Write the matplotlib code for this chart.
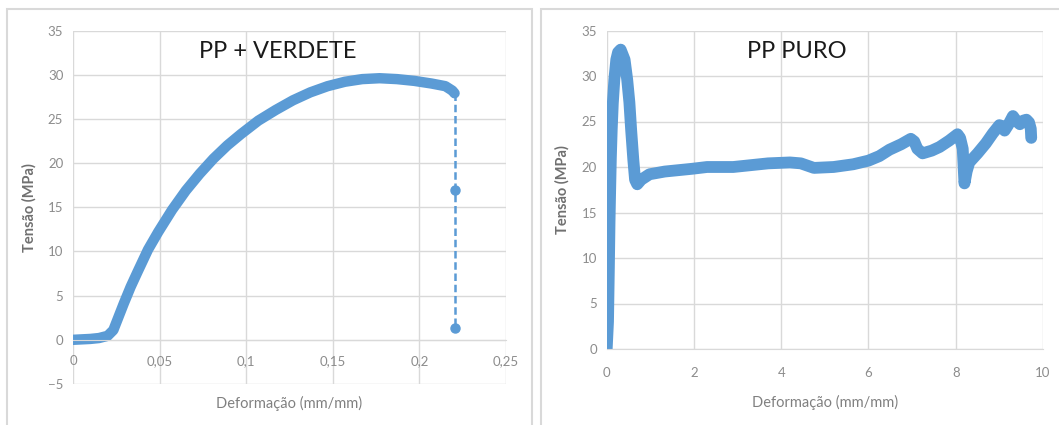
import matplotlib
matplotlib.use("Agg")
import matplotlib.pyplot as plt
from matplotlib.patches import Rectangle

plt.rcParams['font.family'] = ['Lato', 'DejaVu Sans']

# PP + VERDETE (curva principal e trecho de ruptura)
verd_x = [0, 0.005, 0.01, 0.015, 0.02, 0.0233, 0.0263, 0.0293, 0.0333, 0.0373, 0.0433,
          0.0492, 0.0572, 0.0652, 0.0732, 0.0811, 0.0891, 0.0971, 0.107, 0.117, 0.127,
          0.137, 0.147, 0.157, 0.167, 0.177, 0.187, 0.197, 0.207, 0.215, 0.219, 0.2203]
verd_y = [0, 0.05, 0.1, 0.2, 0.45, 1.1, 2.6, 4.1, 6.0, 7.7, 10.2,
          12.2, 14.7, 16.9, 18.8, 20.5, 22.0, 23.3, 24.8, 26.0, 27.1,
          28.0, 28.7, 29.2, 29.5, 29.6, 29.5, 29.3, 29.0, 28.7, 28.2, 27.9]
ruptura_x = [0.2205, 0.2205, 0.2205]
ruptura_y = [27.9, 16.9, 1.3]

# PP PURO
puro_x = [0, 0.03, 0.05, 0.065, 0.076, 0.095, 0.115, 0.14, 0.175, 0.22, 0.26, 0.32,
          0.41, 0.47, 0.52, 0.56, 0.61, 0.65, 0.70, 0.79, 0.98, 1.33, 1.95, 2.3, 2.9,
          3.3, 3.7, 4.2, 4.45, 4.75, 5.2, 5.65, 6.0, 6.25, 6.48, 6.75, 6.97, 7.05, 7.12,
          7.24, 7.45, 7.63, 7.85, 8.04, 8.1, 8.16, 8.2, 8.25, 8.31, 8.5, 8.69, 8.85,
          9.0, 9.06, 9.12, 9.2, 9.31, 9.4, 9.47, 9.55, 9.62, 9.68, 9.72, 9.73]
puro_y = [0, 3, 9, 14, 16.7, 21, 24.1, 27, 29.6, 31.8, 32.6, 32.9,
          31.8, 29.6, 27.1, 24.1, 20.8, 18.6, 18.1, 18.6, 19.2, 19.5, 19.8, 20.0, 20.0,
          20.2, 20.4, 20.5, 20.4, 19.9, 20.0, 20.3, 20.7, 21.2, 21.9, 22.5, 23.1, 22.8, 22.0,
          21.5, 21.8, 22.2, 22.9, 23.6, 23.2, 22.0, 18.2, 19.5, 20.5, 21.5, 22.6, 23.7,
          24.6, 24.5, 24.0, 24.6, 25.6, 25.0, 24.7, 25.1, 25.2, 24.9, 24.2, 23.2]

verd_xticks = [0, 0.05, 0.1, 0.15, 0.2, 0.25]
verd_xlabels = ["0", "0,05", "0,1", "0,15", "0,2", "0,25"]
verd_yticks = [-5, 0, 5, 10, 15, 20, 25, 30, 35]
puro_xticks = [0, 2, 4, 6, 8, 10]
puro_yticks = [0, 5, 10, 15, 20, 25, 30, 35]

W, H = 1059, 425
azul = "#5b9bd5"
grade = "#d9d9d9"
cinza = "#8c8c8c"

fig = plt.figure(figsize=(W / 100, H / 100), dpi=100)

# molduras dos dois graficos
fig.patches.append(Rectangle((7 / W, -0.1), (532 - 7) / W, 1.1 - 9 / H, transform=fig.transFigure,
                             fill=False, edgecolor=grade, lw=1.5))
fig.patches.append(Rectangle((541 / W, -0.1), 0.5, 1.1 - 9 / H, transform=fig.transFigure,
                             fill=False, edgecolor=grade, lw=1.5))


def estilo(ax, xticks, yticks):
    ax.set_xticks(xticks)
    ax.set_yticks(yticks)
    ax.grid(True, color=grade, lw=1)
    ax.set_axisbelow(True)
    for s in ["top", "right", "left"]:
        ax.spines[s].set_visible(False)
    ax.spines["bottom"].set_position(("data", 0))
    ax.spines["bottom"].set_color(grade)
    ax.tick_params(length=0, labelsize=9.5, labelcolor=cinza)
    ax.tick_params(axis="x", pad=11)
    ax.tick_params(axis="y", pad=7)
    ax.set_ylabel("Tensão (MPa)", fontsize=10.5, color="#707070", fontweight="bold")


# esquerda
ax1 = fig.add_axes([73 / W, 1 - 384 / H, 433 / W, (384 - 30.5) / H])
ax1.plot(verd_x, verd_y, color=azul, lw=7.5, solid_capstyle="round", solid_joinstyle="round")
ax1.plot(ruptura_x, ruptura_y, color=azul, lw=1.8, ls=(0, (3, 1.5)),
         marker="o", markersize=6.5, markevery=[1, 2])
ax1.set_xlim(0, 0.25)
ax1.set_ylim(-5, 35)
estilo(ax1, verd_xticks, verd_yticks)
ax1.set_xticklabels(verd_xlabels)
ax1.yaxis.set_label_coords(-0.085, 0.5)

# direita
ax2 = fig.add_axes([606.7 / W, 1 - 349 / H, 436.3 / W, (349 - 30.5) / H])
ax2.plot(puro_x, puro_y, color=azul, lw=8.5, solid_capstyle="round", solid_joinstyle="round")
ax2.set_xlim(0, 10)
ax2.set_ylim(0, 35)
estilo(ax2, puro_xticks, puro_yticks)
ax2.tick_params(axis="x", pad=13)
ax2.yaxis.set_label_coords(-0.086, 0.5)

fig.text(289.5 / W, 1 - 403 / H, "Deformação (mm/mm)", ha="center", va="center",
         fontsize=10.5, color="#808080")
fig.text(825 / W, 1 - 402 / H, "Deformação (mm/mm)", ha="center", va="center",
         fontsize=10.5, color="#808080")

fig.text(278 / W, 1 - 52 / H, "PP + VERDETE", ha="center", va="center", fontsize=17, color="#1a1a1a")
fig.text(797 / W, 1 - 52 / H, "PP PURO", ha="center", va="center", fontsize=17, color="#1a1a1a")

fig.savefig("out.png", dpi=100)
